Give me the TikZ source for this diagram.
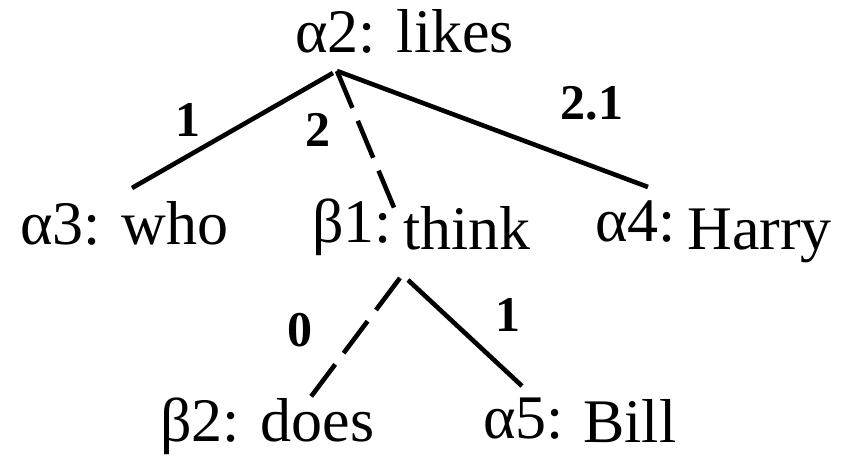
\documentclass[tikz,border=0pt]{standalone}
\usepackage{fontspec}
\setmainfont{Liberation Serif}
\begin{document}
\begin{tikzpicture}[x=0.5pt,y=-0.5pt,
  lbl/.style={inner sep=0pt,anchor=base west,font=\fontsize{31}{37}\selectfont},
  num/.style={inner sep=0pt,anchor=center,font=\fontsize{25}{30}\selectfont\bfseries},
  edge/.style={line width=2.3pt},
  dedge/.style={line width=2.3pt,dash pattern=on 20pt off 7pt}]
\useasboundingbox (0,0) rectangle (842,459);
% tree node texts
\node[lbl] (a2) at (295,53) {α2: likes};
\node[lbl] (a3) at (20,245) {α3: who};
\node[lbl] (b1) at (312,243) {β1:};
\node[lbl] (b1w) at (403,250) {think};
\node[lbl] (a4) at (595,242) {α4:};
\node[lbl] (a4w) at (687,250) {Harry};
\node[lbl] (b2) at (160,442) {β2: does};
\node[lbl] (a5) at (483,439) {α5:};
\node[lbl] (a5w) at (583,443) {Bill};
% attachment points
\coordinate (a2l) at (333,73);
\coordinate (a2r) at (337,71);
\coordinate (a3t) at (132,188);
\coordinate (b1t) at (395,210);
\coordinate (a4t) at (648,187);
\coordinate (b1l) at (400,278);
\coordinate (b1r) at (408,280);
\coordinate (b2t) at (307,402);
\coordinate (a5t) at (522,386);
% connectors
\draw[edge] (a2l) -- (a3t);
\draw[dedge] (a2r) -- (b1t);
\draw[edge] (a2r) -- (a4t);
\draw[dedge] (b1l) -- (b2t);
\draw[edge] (b1r) -- (a5t);
% edge labels
\node[num] (n1) at (188,120) {1};
\node[num] (n2) at (318,130) {2};
\node[num] (n21) at (592,103) {2.1};
\node[num] (n0) at (300,330) {0};
\node[num] (n1b) at (508,315) {1};
\end{tikzpicture}
\end{document}
